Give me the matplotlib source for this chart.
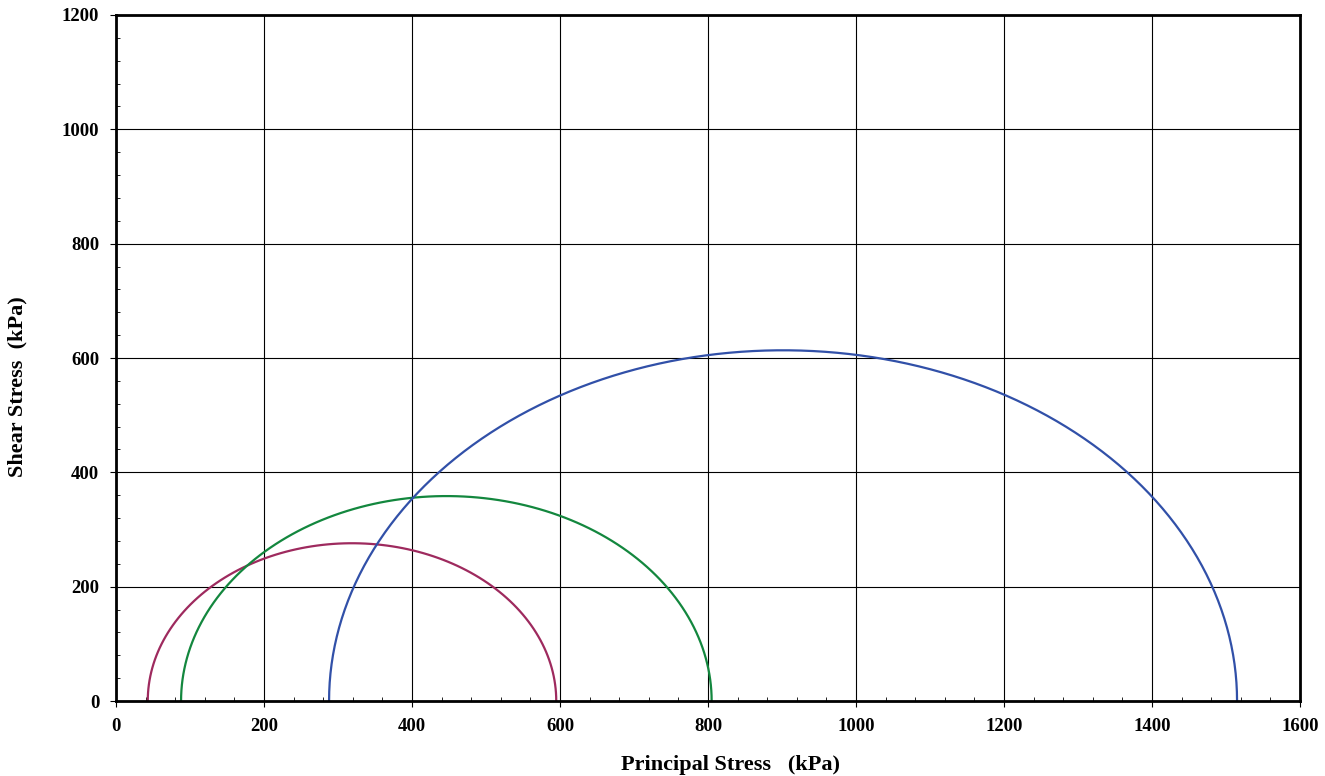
import numpy as np
import matplotlib.pyplot as plt
from matplotlib.ticker import MultipleLocator

# principal stresses at failure (kPa)
sigma3 = [43, 88, 288]
sigma1 = [595, 805, 1515]
colors = ['#9e2a5e', '#13873e', '#3150a8']

plt.rcParams['font.family'] = ['Liberation Serif', 'DejaVu Serif']
plt.rcParams['font.weight'] = 'bold'

fig = plt.figure(figsize=(13.25, 7.76), dpi=100)
ax = fig.add_axes([0.0875, 0.0966, 0.8936, 0.8841])

theta = np.linspace(0, np.pi, 120)
for s3, s1, c in zip(sigma3, sigma1, colors):
    center = (s1 + s3) / 2
    radius = (s1 - s3) / 2
    ax.plot(center + radius * np.cos(theta), radius * np.sin(theta), color=c, lw=1.6)

ax.set_xlim(0, 1600)
ax.set_ylim(0, 1200)
ax.xaxis.set_major_locator(MultipleLocator(200))
ax.yaxis.set_major_locator(MultipleLocator(200))
ax.xaxis.set_minor_locator(MultipleLocator(40))
ax.yaxis.set_minor_locator(MultipleLocator(40))
ax.grid(True, which='major', color='black', lw=0.8)
ax.set_axisbelow(True)
ax.tick_params(which='major', direction='out', length=4, labelsize=13.5, pad=8)
ax.tick_params(which='minor', direction='in', length=3)
for sp in ax.spines.values():
    sp.set_linewidth(2)

ax.set_xlabel('Principal Stress   (kPa)', fontsize=16, fontweight='bold')
ax.set_ylabel('Shear Stress  (kPa)', fontsize=16, fontweight='bold')
ax.xaxis.set_label_coords(0.519, -0.079)
ax.yaxis.set_label_coords(-0.075, 0.459)
fig.text(0.56, 1.0, 'Mohr Circle Diagram', fontsize=18, fontweight='bold',
         ha='center', va='bottom')

fig.savefig('out.png', dpi=100)
